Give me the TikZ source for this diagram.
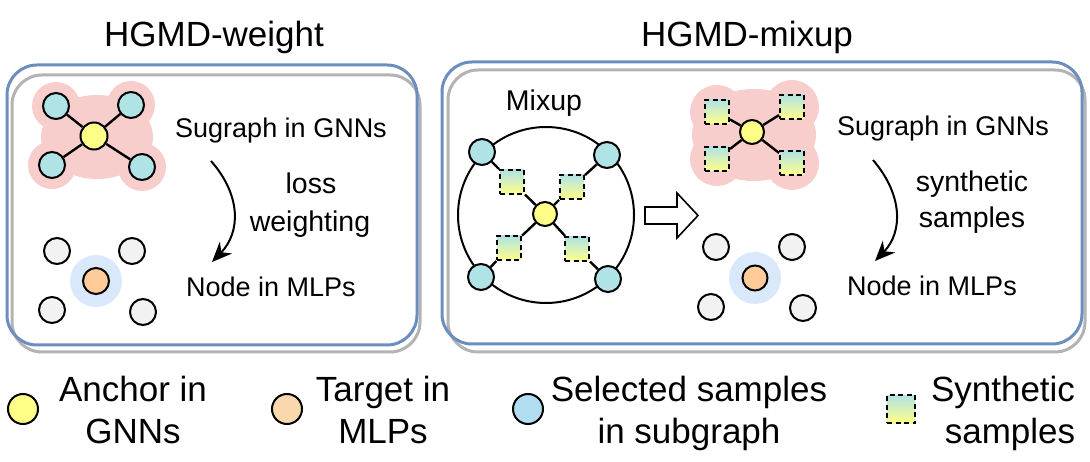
\documentclass[tikz,border=0pt]{standalone}
\usepackage{fontspec}
\setmainfont{Liberation Sans}
\usetikzlibrary{arrows.meta}
\definecolor{boxblue}{HTML}{6C8EBF}
\definecolor{shadowgray}{HTML}{B3B3B3}
\definecolor{blobpink}{HTML}{F8CECC}
\definecolor{tealfill}{HTML}{B0E3E6}
\definecolor{yelfill}{HTML}{FFFF88}
\definecolor{orafill}{HTML}{FFCC99}
\definecolor{grayfill}{HTML}{F2F2F2}
\definecolor{halo}{HTML}{DAE8FC}
\definecolor{legblue}{HTML}{B1DDF0}
\definecolor{legora}{HTML}{FAD7AC}
\begin{document}
\begin{tikzpicture}[x=1pt,y=-1pt,
  title/.style={anchor=base, inner sep=0pt, font=\fontsize{35}{42}\selectfont},
  lbl/.style={anchor=base, inner sep=0pt, font=\fontsize{27}{32}\selectfont},
  lbl2/.style={anchor=base, inner sep=0pt, font=\fontsize{28.5}{34}\selectfont},
  leg/.style={anchor=base, inner sep=0pt, font=\fontsize{35}{42}\selectfont},
  outerbox/.style={draw=boxblue, line width=3, rounded corners=30},
  shadowbox/.style={draw=shadowgray, line width=3, rounded corners=30},
  tnode/.style={circle, draw=black, line width=2, fill=tealfill, minimum size=26, inner sep=0pt},
  ynode/.style={tnode, fill=yelfill, minimum size=25},
  gnode/.style={tnode, fill=grayfill},
  onode/.style={tnode, fill=orafill, minimum size=25},
  halonode/.style={circle, fill=halo, minimum size=52, inner sep=0pt},
  synsq/.style={rectangle, draw=black, dash pattern=on 5pt off 3.5pt, line width=2,
    top color=tealfill, bottom color=yelfill, minimum size=24, inner sep=0pt},
  edge/.style={line width=2.4, black},
  curvearrow/.style={line width=2, -{Stealth[length=20, width=17]}},
]
\useasboundingbox (0,0) rectangle (1090,462);

% ---------------- titles
\node[title] (t1) at (214,46.5) {HGMD-weight};
\node[title] (t2) at (747,46.5) {HGMD-mixup};

% ---------------- boxes
\draw[shadowbox] (12,75) rectangle (420,352);
\draw[outerbox] (7,65) rectangle (417,345);
\draw[shadowbox] (448,70) rectangle (1085,352);
\draw[outerbox] (442,62) rectangle (1082,344);

% ================= left panel
% blob
\fill[blobpink] (97,137) ellipse [x radius=56, y radius=42];
\foreach \p in {(56,106),(131,105),(52,165),(142,167)} \fill[blobpink] \p circle[radius=24];
\node[tnode] (l1) at (56,106) {};
\node[tnode] (l2) at (131,105) {};
\node[tnode] (l3) at (52,165) {};
\node[tnode] (l4) at (142,167) {};
\node[ynode, minimum size=27] (lc) at (94,136) {};
\foreach \n in {l1,l2,l3,l4} \draw[edge] (lc) -- (\n);

\node[lbl] (ls) at (281,138) {Sugraph in GNNs};
\coordinate (la1) at (211,161);
\coordinate (la2) at (212,262);
\draw[curvearrow] (la1) .. controls (241,195) and (241,232) .. (la2);
\node[lbl2] (lw1) at (311,194) {loss};
\node[lbl2] (lw2) at (310,232) {weighting};
\node[lbl] (ln) at (271,297) {Node in MLPs};

\node[gnode] (lg1) at (57,251) {};
\node[gnode] (lg2) at (132,251) {};
\node[gnode] (lg3) at (52,310) {};
\node[gnode] (lg4) at (143,312) {};
\node[halonode] (lh) at (96,281) {};
\node[onode, minimum size=26] (lo) at (96,281) {};

% ================= right panel
% mixup
\node[lbl2] (mx) at (544,111) {Mixup};
\node[circle, draw=black, line width=2, minimum size=176, inner sep=0pt] (mc) at (546,215) {};
\node[tnode] (m1) at (482,152) {};
\node[tnode] (m2) at (607,155) {};
\node[tnode] (m3) at (481,277) {};
\node[tnode] (m4) at (608,279) {};
\node[synsq] (s1) at (512,182) {};
\node[synsq] (s2) at (572,187) {};
\node[synsq] (s3) at (509,248) {};
\node[synsq] (s4) at (577,249) {};
\node[ynode, minimum size=24] (mcen) at (545,214) {};
\draw[edge] (m1) -- (s1) (s1) -- (mcen);
\draw[edge] (m2) -- (s2) (s2) -- (mcen);
\draw[edge] (m3) -- (s3) (s3) -- (mcen);
\draw[edge] (m4) -- (s4) (s4) -- (mcen);

% hollow arrow
\draw[line width=1.6, fill=white, line join=miter]
  (645,207) -- (677,207) -- (677,193) -- (698,215.5) -- (677,238) -- (677,224) -- (645,224) -- cycle;

% subgraph blob
\fill[blobpink] (754,135) ellipse [x radius=62, y radius=46];
\foreach \p in {(717,112),(792,107),(717,159),(792,163)} \fill[blobpink] \p circle[radius=27];
\node[synsq] (r1) at (717,112) {};
\node[synsq] (r2) at (792,107) {};
\node[synsq] (r3) at (717,159) {};
\node[synsq] (r4) at (792,163) {};
\node[ynode, minimum size=24] (rc) at (752,132) {};
\foreach \n in {r1,r2,r3,r4} \draw[edge] (rc) -- (\n);

\node[lbl] (rs) at (943,136) {Sugraph in GNNs};
\coordinate (ra1) at (873,160);
\coordinate (ra2) at (875,261);
\draw[curvearrow] (ra1) .. controls (903,195) and (903,232) .. (ra2);
\node[lbl2] (rw1) at (972,192) {synthetic};
\node[lbl2] (rw2) at (972,228) {samples};
\node[lbl] (rn) at (932,296) {Node in MLPs};

\node[gnode] (rg1) at (716,247) {};
\node[gnode] (rg2) at (792,247) {};
\node[gnode] (rg3) at (711,307) {};
\node[gnode] (rg4) at (803,308) {};
\node[halonode] (rh) at (755,278) {};
\node[onode] (ro) at (755,278) {};

% ================= legend
\node[ynode, minimum size=30] (ky) at (23,409) {};
\node[leg] (ky1) at (133,401) {Anchor in};
\node[leg] (ky2) at (133,443) {GNNs};
\node[tnode, fill=legora, minimum size=30] (ko) at (287,409) {};
\node[leg] (ko1) at (383,401) {Target in};
\node[leg] (ko2) at (383,443) {MLPs};
\node[tnode, fill=legblue, minimum size=30] (kb) at (528,409) {};
\node[leg] (kb1) at (689,401) {Selected samples};
\node[leg] (kb2) at (689,443) {in subgraph};
\node[synsq, minimum size=28] (ks) at (901,409) {};
\node[leg] (ks1) at (1003,401) {Synthetic};
\node[leg] (ks2) at (1010,443) {samples};
\end{tikzpicture}
\end{document}
